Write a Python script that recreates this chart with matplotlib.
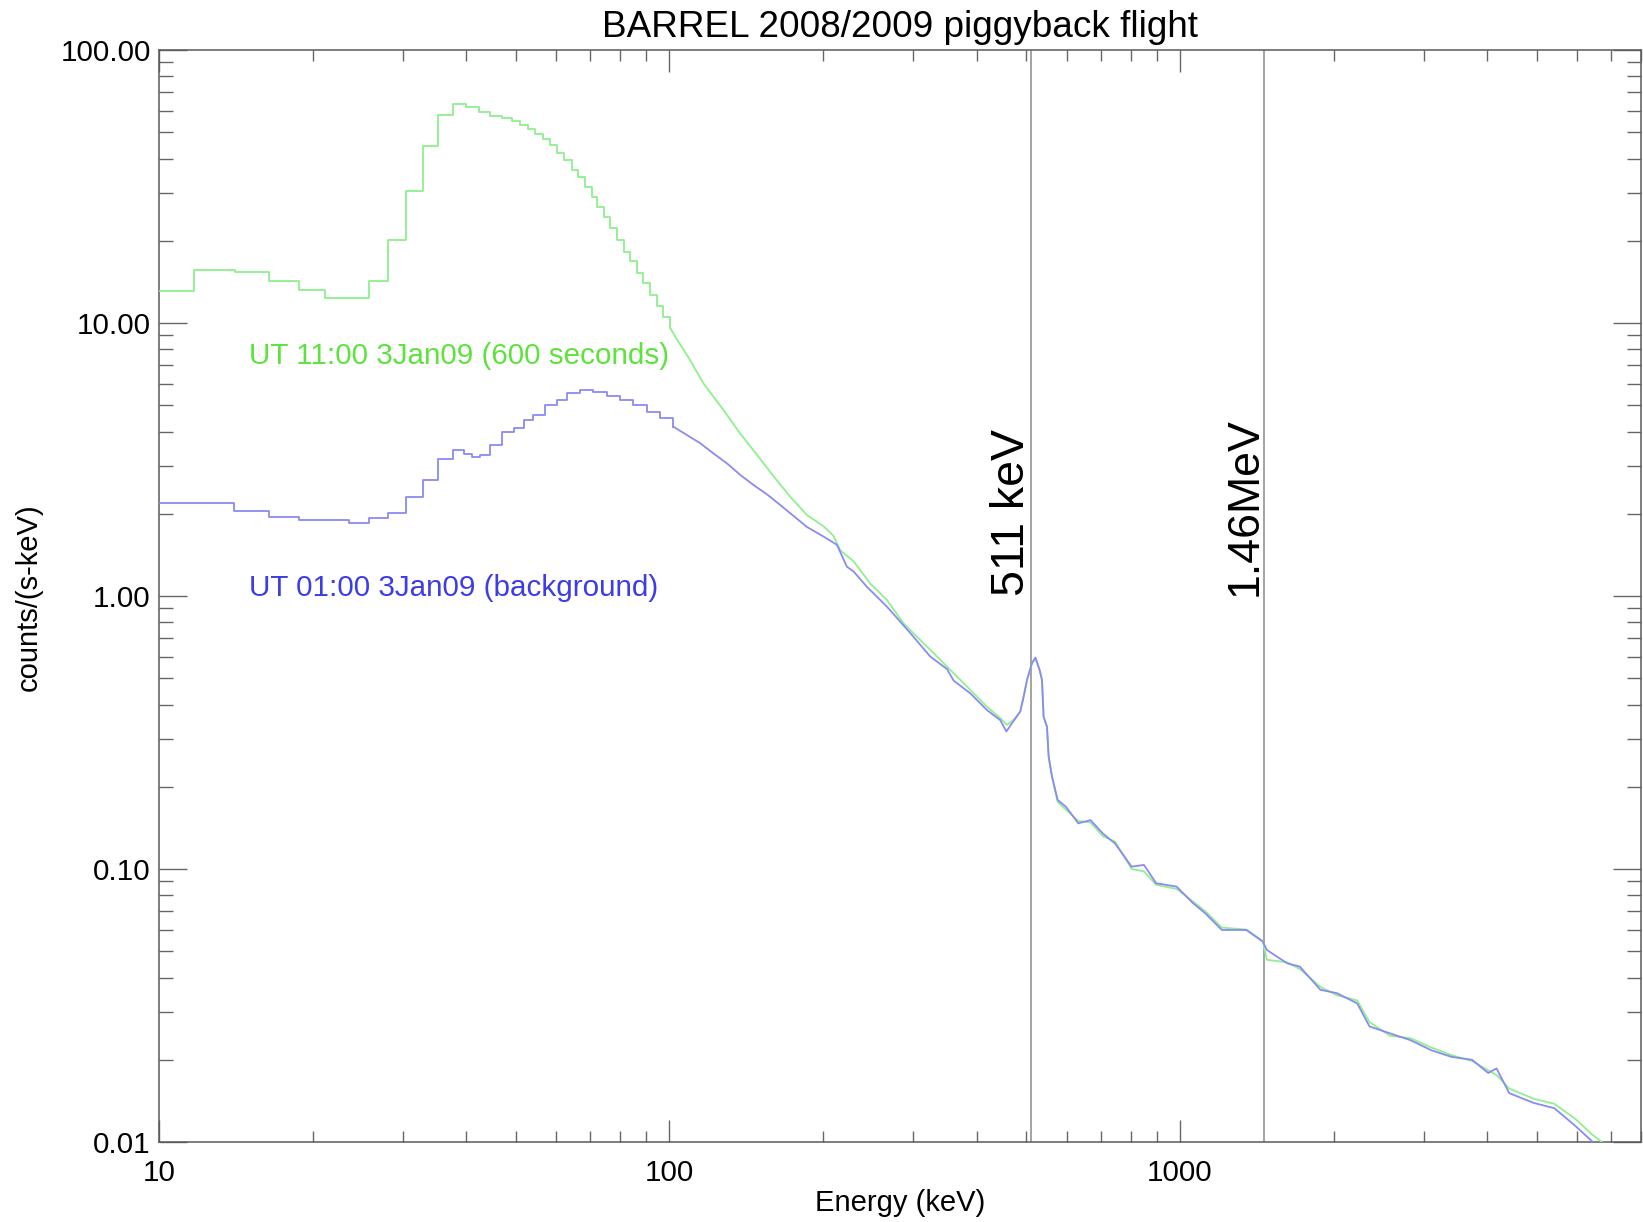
import numpy as np
import matplotlib
matplotlib.use("Agg")
import matplotlib.pyplot as plt
from matplotlib.ticker import LogLocator, FuncFormatter, NullFormatter

# ---------------- data ----------------
green_energy = [10.0, 11.7, 14.1, 16.4, 18.8, 21.1, 25.8, 28.1, 30.4, 32.9, 35.2, 37.6, 39.9,
                42.3, 44.5, 46.9, 49.1, 51.0, 52.9, 54.6, 56.6, 58.4, 60.2, 62.0, 64.4, 66.3,
                68.4, 70.5, 72.1, 74.3, 76.5, 78.9, 81.3, 83.8, 86.3, 88.9, 91.7, 94.5, 97.3,
                100.3, 103.4, 106.5, 109.8, 113.2, 116.6, 127.6, 137.5, 148.4, 160.0, 172.4,
                185.9, 200.4, 209.6, 216.1, 229.4, 247.4, 266.7, 287.4, 309.9, 334.2, 360.2,
                388.4, 418.8, 444.6, 458.3, 472.2, 486.5, 494.0, 501.5, 512.9, 521.0, 530.9,
                536.7, 540.6, 548.9, 553.0, 561.4, 576.0, 598.0, 632.0, 668.0, 706.0, 746.0,
                804.0, 850.0, 898.0, 985.0, 1061.0, 1121.0, 1208.0, 1349.0, 1453.0, 1480.0,
                1623.0, 1717.0, 1884.0, 2028.0, 2224.0, 2351.0, 2579.0, 2829.0, 3103.0,
                3404.0, 3734.0, 4016.0, 4170.0, 4415.0, 4932.0, 5410.0, 5935.0, 6400.0, 6900.0]
green_rate = [13.1, 15.7, 15.4, 14.2, 13.2, 12.3, 14.3, 20.1, 30.5, 44.5, 58.0, 63.2, 62.0,
              59.5, 57.3, 56.5, 55.0, 53.1, 51.2, 49.2, 47.1, 44.9, 42.1, 39.6, 36.3, 34.4,
              31.6, 29.0, 26.7, 24.5, 22.2, 20.1, 18.2, 16.8, 15.2, 14.0, 12.7, 11.5, 10.5,
              9.6, 8.7, 8.0, 7.3, 6.6, 6.0, 4.80, 3.94, 3.29, 2.74, 2.31,
              1.98, 1.80, 1.66, 1.47, 1.34, 1.11, 0.967, 0.794, 0.690, 0.600, 0.521,
              0.453, 0.393, 0.357, 0.337, 0.352, 0.377, 0.428, 0.492, 0.567, 0.591, 0.536,
              0.492, 0.361, 0.332, 0.258, 0.218, 0.176, 0.165, 0.150, 0.148, 0.132, 0.126,
              0.100, 0.098, 0.0875, 0.0845, 0.0760, 0.0700, 0.0610, 0.0600, 0.0545, 0.0465,
              0.0455, 0.0430, 0.0370, 0.0345, 0.0330, 0.0275, 0.0245, 0.0240, 0.0222,
              0.0208, 0.0198, 0.0183, 0.0176, 0.0157, 0.0144, 0.0138, 0.0122, 0.0107, 0.0096]

blue_energy = [10.0, 14.0, 16.4, 18.8, 23.6, 25.8, 28.1, 30.4, 32.9, 35.2, 37.6, 39.6, 41.0,
               42.6, 44.5, 46.9, 49.5, 51.8, 54.1, 57.1, 60.2, 62.9, 66.8, 70.9, 75.4, 80.1,
               85.0, 90.3, 95.9, 101.8, 108.1, 114.8, 121.9, 129.6, 137.5, 146.1, 155.1,
               164.0, 172.4, 185.9, 200.4, 212.8, 222.6, 229.4, 243.7, 266.7, 296.6, 324.2,
               349.7, 360.2, 388.4, 418.8, 444.6, 456.9, 468.8, 486.5, 494.0, 501.5, 512.9,
               521.0, 530.9, 536.7, 540.6, 548.9, 553.0, 561.4, 576.0, 598.0, 632.0, 668.0,
               706.0, 746.0, 804.0, 850.0, 898.0, 985.0, 1061.0, 1121.0, 1208.0, 1349.0,
               1453.0, 1480.0, 1623.0, 1717.0, 1884.0, 2028.0, 2224.0, 2351.0, 2579.0,
               2829.0, 3103.0, 3404.0, 3734.0, 4016.0, 4170.0, 4415.0, 4932.0, 5410.0,
               5935.0, 6400.0, 6700.0]
blue_rate = [2.19, 2.05, 1.95, 1.90, 1.85, 1.93, 2.01, 2.31, 2.65, 3.17, 3.43, 3.32, 3.24,
             3.29, 3.57, 4.00, 4.11, 4.41, 4.60, 5.01, 5.23, 5.52, 5.69, 5.60, 5.40, 5.23,
             5.01, 4.73, 4.48, 4.17, 3.89, 3.63, 3.33, 3.06, 2.78, 2.55, 2.36,
             2.17, 2.01, 1.79, 1.65, 1.54, 1.28, 1.23, 1.08, 0.914, 0.730, 0.600,
             0.540, 0.490, 0.440, 0.382, 0.351, 0.319, 0.342, 0.377, 0.428, 0.492, 0.567,
             0.595, 0.536, 0.492, 0.361, 0.332, 0.258, 0.218, 0.179, 0.169, 0.147, 0.151,
             0.135, 0.124, 0.102, 0.1035, 0.0887, 0.0862, 0.0749, 0.0688, 0.0598, 0.0598,
             0.0542, 0.0505, 0.0451, 0.0439, 0.0361, 0.0351, 0.0322, 0.0265, 0.0250,
             0.0236, 0.0217, 0.0205, 0.0200, 0.0179, 0.0186, 0.0151, 0.0139, 0.0133,
             0.0115, 0.0101, 0.0095]

line_energies = [511.0, 1460.0]
line_labels = ["511 keV", "1.46MeV"]
line_label_sizes = [33.5, 32.2]
line_label_nudge = [1.011, 1.008]

green_label = "UT 11:00 3Jan09 (600 seconds)"
blue_label = "UT 01:00 3Jan09 (background)"
title = "BARREL 2008/2009 piggyback flight"
xlabel = "Energy (keV)"
ylabel = "counts/(s-keV)"

# ---------------- figure ----------------
plt.rcParams['font.family'] = ['Liberation Sans', 'DejaVu Sans']
W, H = 1643, 1222
fig = plt.figure(figsize=(W / 100, H / 100), dpi=100)
L, R, T, B = 159, 1641, 50, 1142
ax = fig.add_axes([L / W, 1 - B / H, (R - L) / W, (B - T) / H])
ax.set_xscale('log')
ax.set_yscale('log')
ax.set_xlim(10, 8000)
ax.set_ylim(0.01, 100)

STEP_LIMIT = 100.0


def draw_spectrum(e, r, color):
    e = np.asarray(e)
    r = np.asarray(r)
    k = int(np.searchsorted(e, STEP_LIMIT))
    ax.step(e[:k + 1], r[:k + 1], where='post', color=color, lw=1.3, zorder=3)
    ax.plot(e[k:], r[k:], color=color, lw=1.3, zorder=3)


draw_spectrum(green_energy, green_rate, '#8ef08e')
draw_spectrum(blue_energy, blue_rate, '#8a8af2')

for xe, lab, fs, nudge in zip(line_energies, line_labels, line_label_sizes, line_label_nudge):
    ax.axvline(xe, color='#a3a3a3', lw=1.4, zorder=2)
    ax.text(xe * nudge, 1.0, lab, rotation=90, ha='right', va='bottom',
            fontsize=fs, color='black')

ax.text(15, 7.6, green_label, color='#5ee23e', fontsize=21.3, ha='left', va='center')
ax.text(15, 1.07, blue_label, color='#3c3ce8', fontsize=21.3, ha='left', va='center')

# ticks
for a in (ax.xaxis, ax.yaxis):
    a.set_major_locator(LogLocator(base=10, numticks=20))
    a.set_minor_locator(LogLocator(base=10, subs=np.arange(2, 10), numticks=20))
    a.set_minor_formatter(NullFormatter())
ax.xaxis.set_major_formatter(FuncFormatter(lambda v, p: '%d' % round(v)))
ax.yaxis.set_major_formatter(FuncFormatter(lambda v, p: '%.2f' % v))
ax.tick_params(axis='both', which='both', direction='in', top=True, right=True,
               color='#666666', width=1.0, labelsize=21.3)
ax.tick_params(axis='x', which='major', length=16, pad=12)
ax.tick_params(axis='x', which='minor', length=8)
ax.tick_params(axis='y', which='major', length=20, pad=6)
ax.tick_params(axis='y', which='minor', length=10)
for s in ax.spines.values():
    s.set_color('#5a5a5a')
    s.set_linewidth(1.1)

fig.text(900 / W, 1 - 37 / H, title, ha='center', va='baseline', fontsize=26.6)
fig.text(900 / W, 1 - 1203 / H, xlabel, ha='center', va='center', fontsize=21)
fig.text(29 / W, 1 - 597 / H, ylabel, ha='center', va='center', rotation=90, fontsize=21)

fig.savefig('out.png', dpi=100)
